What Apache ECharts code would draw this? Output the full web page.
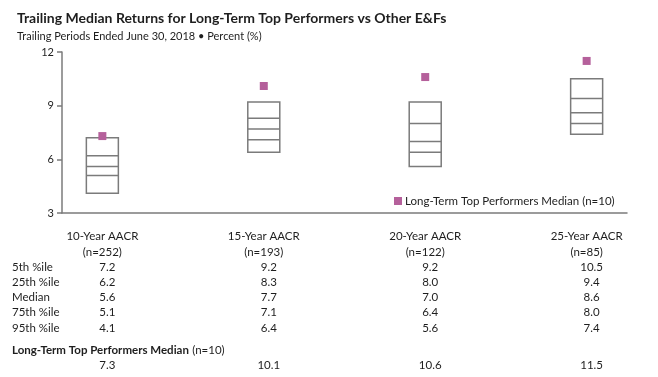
<!DOCTYPE html>
<html>
<head>
<meta charset="utf-8">
<script src="https://cdn.jsdelivr.net/npm/echarts@6/dist/echarts.min.js"></script>
<style>
  html, body { margin: 0; padding: 0; background: #fff; }
  #chart { width: 658px; height: 377px; }
</style>
</head>
<body>
<div id="chart"></div>
<script>
// data
const categories = ["10-Year AACR", "15-Year AACR", "20-Year AACR", "25-Year AACR"];
const counts = [252, 193, 122, 85];
const p5 = [7.2, 9.2, 9.2, 10.5];
const p25 = [6.2, 8.3, 8.0, 9.4];
const median = [5.6, 7.7, 7.0, 8.6];
const p75 = [5.1, 7.1, 6.4, 8.0];
const p95 = [4.1, 6.4, 5.6, 7.4];
const topMedian = [7.3, 10.1, 10.6, 11.5];
const rowLabels = ["5th %ile", "25th %ile", "Median", "75th %ile", "95th %ile"];
const yTicks = [3, 6, 9, 12];

const FONT = "Lato, 'Noto Sans', sans-serif";
const TEXT = "#1e1e1e";
const GRAY = "#7b7b7b";
const PINK = "#b5609b";

const chart = echarts.init(document.getElementById("chart"));

const boxData = categories.map((c, i) => [i, p95[i], p75[i], median[i], p25[i], p5[i]]);
const topData = categories.map((c, i) => [i, topMedian[i]]);

const option = {
  animation: false,
  textStyle: { fontFamily: FONT },
  title: [
    {
      text: "Trailing Median Returns for Long-Term Top Performers vs Other E&Fs",
      left: 12, top: 6,
      textStyle: { fontFamily: FONT, fontSize: 14, fontWeight: "bold", color: TEXT }
    },
    {
      text: "Trailing Periods Ended June 30, 2018 \u2022 Percent (%)",
      left: 12, top: 26,
      textStyle: { fontFamily: FONT, fontSize: 11, fontWeight: "normal", color: TEXT }
    }
  ],
  legend: {
    left: 389, top: 190,
    itemWidth: 8, itemHeight: 8, itemGap: 4,
    icon: "rect",
    data: ["Long-Term Top Performers Median (n=10)"],
    textStyle: { fontFamily: FONT, fontSize: 11.5, color: TEXT, padding: [0, 0, 0, -2] }
  },
  grid: { left: 62, right: 31, top: 52, bottom: 164 },
  xAxis: {
    type: "value",
    min: -0.25, max: 3.25,
    axisLine: { show: true, onZero: false, lineStyle: { color: GRAY, width: 1.5 } },
    axisTick: { show: false },
    axisLabel: { show: false },
    splitLine: { show: false }
  },
  yAxis: {
    type: "value",
    min: yTicks[0], max: yTicks[yTicks.length - 1], interval: yTicks[1] - yTicks[0],
    axisLine: { show: true, onZero: false, lineStyle: { color: GRAY, width: 1.5 } },
    axisTick: { show: true, length: 5, lineStyle: { color: GRAY, width: 1.5 } },
    axisLabel: { fontFamily: FONT, fontSize: 11, color: TEXT, margin: 8 },
    splitLine: { show: false }
  },
  series: [
    {
      type: "custom",
      name: "boxes",
      data: boxData,
      renderItem: function (params, api) {
        const x = api.value(0);
        const half = 16;
        const top = api.coord([x, api.value(5)]);
        const bot = api.coord([x, api.value(1)]);
        const style = { stroke: GRAY, lineWidth: 1.5, fill: "none" };
        const children = [{
          type: "rect",
          shape: { x: top[0] - half, y: top[1], width: half * 2, height: bot[1] - top[1] },
          style: style
        }];
        [2, 3, 4].forEach(function (k) {
          const p = api.coord([x, api.value(k)]);
          children.push({
            type: "line",
            shape: { x1: p[0] - half, y1: p[1], x2: p[0] + half, y2: p[1] },
            style: style
          });
        });
        return { type: "group", children: children };
      }
    },
    {
      type: "scatter",
      name: "Long-Term Top Performers Median (n=10)",
      data: topData,
      symbol: "rect",
      symbolSize: 8,
      itemStyle: { color: PINK, opacity: 1 }
    }
  ]
};

chart.setOption(option);

// table under the chart, columns lined up on the category positions
const rowY = [267, 282, 297, 312, 328];
const centers = categories.map((c, i) => chart.convertToPixel({ xAxisIndex: 0 }, i));
const cellStyle = { fontFamily: FONT, fontSize: 11.5, fill: TEXT, align: "center", verticalAlign: "middle" };
const graphic = [];

categories.forEach(function (c, i) {
  graphic.push({ type: "text", x: centers[i], y: 236, style: Object.assign({ text: c }, cellStyle) });
  graphic.push({ type: "text", x: centers[i], y: 252, style: Object.assign({ text: "(n=" + counts[i] + ")" }, cellStyle) });
  const cols = [p5[i], p25[i], median[i], p75[i], p95[i]];
  cols.forEach(function (v, r) {
    graphic.push({ type: "text", x: centers[i] + 5, y: rowY[r], style: Object.assign({ text: v.toFixed(1) }, cellStyle) });
  });
  graphic.push({ type: "text", x: centers[i] + 5, y: 365, style: Object.assign({ text: topMedian[i].toFixed(1) }, cellStyle) });
});

rowLabels.forEach(function (t, r) {
  graphic.push({ type: "text", x: 12, y: rowY[r], style: Object.assign({}, cellStyle, { text: t, align: "left" }) });
});

graphic.push({
  type: "text", x: 12, y: 350,
  style: {
    text: "{b|Long-Term Top Performers Median} {r|(n=10)}",
    align: "left", verticalAlign: "middle",
    rich: {
      b: { fontFamily: FONT, fontSize: 11.5, fontWeight: "bold", fill: TEXT, color: TEXT },
      r: { fontFamily: FONT, fontSize: 11.5, fill: TEXT, color: TEXT }
    }
  }
});

chart.setOption({ graphic: graphic });
</script>
</body>
</html>
